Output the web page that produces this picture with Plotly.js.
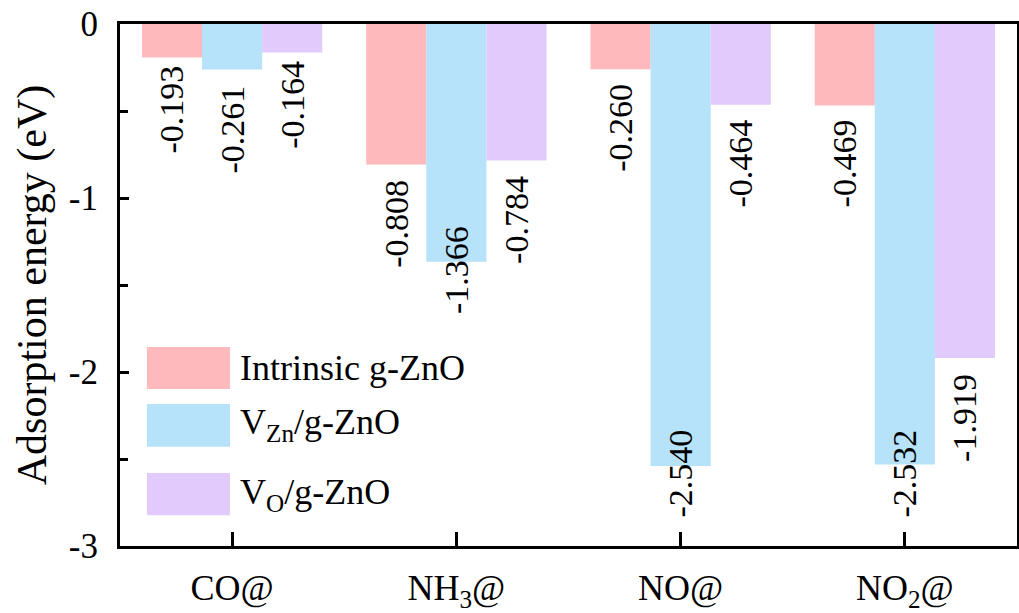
<!DOCTYPE html>
<html>
<head>
<meta charset="utf-8">
<script src="https://cdn.plot.ly/plotly-3.0.1.min.js"></script>
<style>
  html, body { margin: 0; padding: 0; background: #fff; }
  #chart { width: 1019px; height: 613px; }
</style>
</head>
<body>
<div id="chart"></div>
<script>
// Adsorption energies (eV) of gas molecules on g-ZnO variants
const categories = ['CO@', 'NH<sub>3</sub>@', 'NO@', 'NO<sub>2</sub>@'];
const intrinsic = [-0.193, -0.808, -0.260, -0.469];
const vZn = [-0.261, -1.366, -2.540, -2.532];
const vO = [-0.164, -0.784, -0.464, -1.919];
const seriesNames = ['Intrinsic g-ZnO', 'V<sub>Zn</sub>/g-ZnO', 'V<sub>O</sub>/g-ZnO'];
const yTicks = [0, -1, -2, -3];

// styling
const colors = ['#FDB9BB', '#B6E2FA', '#E2CBFC'];
const FONT = '"Liberation Serif", "Times New Roman", serif';
const BARGAP = 0.196;
// vertical pixel offset of each value label from its bar end (series x category)
const labelShift = [
  [-6, -13, -13, -12],
  [-14, 38, 38, 37],
  [-6, -13, -13, -14]
];

const series = [intrinsic, vZn, vO];
const xs = categories.map((_, i) => i);
const nSeries = series.length;
const barW = (1 - BARGAP) / nSeries;

const traces = series.map((vals, k) => ({
  type: 'bar',
  x: xs,
  y: vals,
  name: seriesNames[k],
  marker: { color: colors[k], line: { width: 0 } },
  hoverinfo: 'none',
  showlegend: false
}));

// value labels, rotated, below each bar end
const annotations = [];
series.forEach((vals, k) => {
  vals.forEach((v, i) => {
    annotations.push({
      x: i + (k - (nSeries - 1) / 2) * barW,
      y: v,
      xref: 'x', yref: 'y',
      text: v.toFixed(3),
      textangle: -90,
      showarrow: false,
      xanchor: 'center',
      yanchor: 'top',
      yshift: labelShift[k][i],
      font: { family: FONT, size: 34, color: '#000' }
    });
  });
});

// legend drawn as swatches + text inside the plot
const legendRows = [
  { y0: 0.301, y1: 0.381, ty: 0.341 },
  { y0: 0.190, y1: 0.272, ty: 0.232 },
  { y0: 0.059, y1: 0.140, ty: 0.0996 }
];
const shapes = [];
legendRows.forEach((r, k) => {
  shapes.push({
    type: 'rect', xref: 'paper', yref: 'paper',
    x0: 0.030, x1: 0.1226, y0: r.y0, y1: r.y1,
    fillcolor: colors[k], line: { width: 0 }, layer: 'above'
  });
  annotations.push({
    xref: 'paper', yref: 'paper',
    x: 0.1316, y: r.ty,
    xanchor: 'left', yanchor: 'middle',
    text: seriesNames[k],
    showarrow: false,
    font: { family: FONT, size: 36, color: '#000' }
  });
});

const layout = {
  width: 1019,
  height: 613,
  margin: { l: 120, r: 2, t: 24, b: 67 },
  paper_bgcolor: '#fff',
  plot_bgcolor: '#fff',
  barmode: 'group',
  bargap: BARGAP,
  bargroupgap: 0,
  font: { family: FONT, color: '#000' },
  xaxis: {
    range: [-0.5, 3.5],
    tickmode: 'array',
    tickvals: xs,
    ticktext: categories,
    ticks: 'inside',
    ticklen: 14,
    tickwidth: 3,
    tickcolor: '#000',
    ticklabelstandoff: 8,
    tickfont: { family: FONT, size: 36, color: '#000' },
    showline: true,
    linecolor: '#000',
    linewidth: 3,
    mirror: true,
    showgrid: false,
    zeroline: false,
    fixedrange: true
  },
  yaxis: {
    range: [-3, 0],
    tickmode: 'array',
    tickvals: yTicks,
    ticktext: yTicks.map(String),
    ticks: 'inside',
    ticklen: 9,
    tickwidth: 3,
    tickcolor: '#000',
    ticklabelstandoff: 12,
    tickfont: { family: FONT, size: 35, color: '#000' },
    minor: { dtick: 0.5, ticks: 'inside', ticklen: 8, tickwidth: 3, tickcolor: '#000', showgrid: false },
    showline: true,
    linecolor: '#000',
    linewidth: 3,
    mirror: true,
    showgrid: false,
    zeroline: false,
    fixedrange: true,
    title: {
      text: 'Adsorption energy (eV)',
      font: { family: FONT, size: 42, color: '#000' },
      standoff: 10
    }
  },
  shapes: shapes,
  annotations: annotations
};

Plotly.newPlot('chart', traces, layout, { displayModeBar: false, staticPlot: true });
</script>
</body>
</html>
